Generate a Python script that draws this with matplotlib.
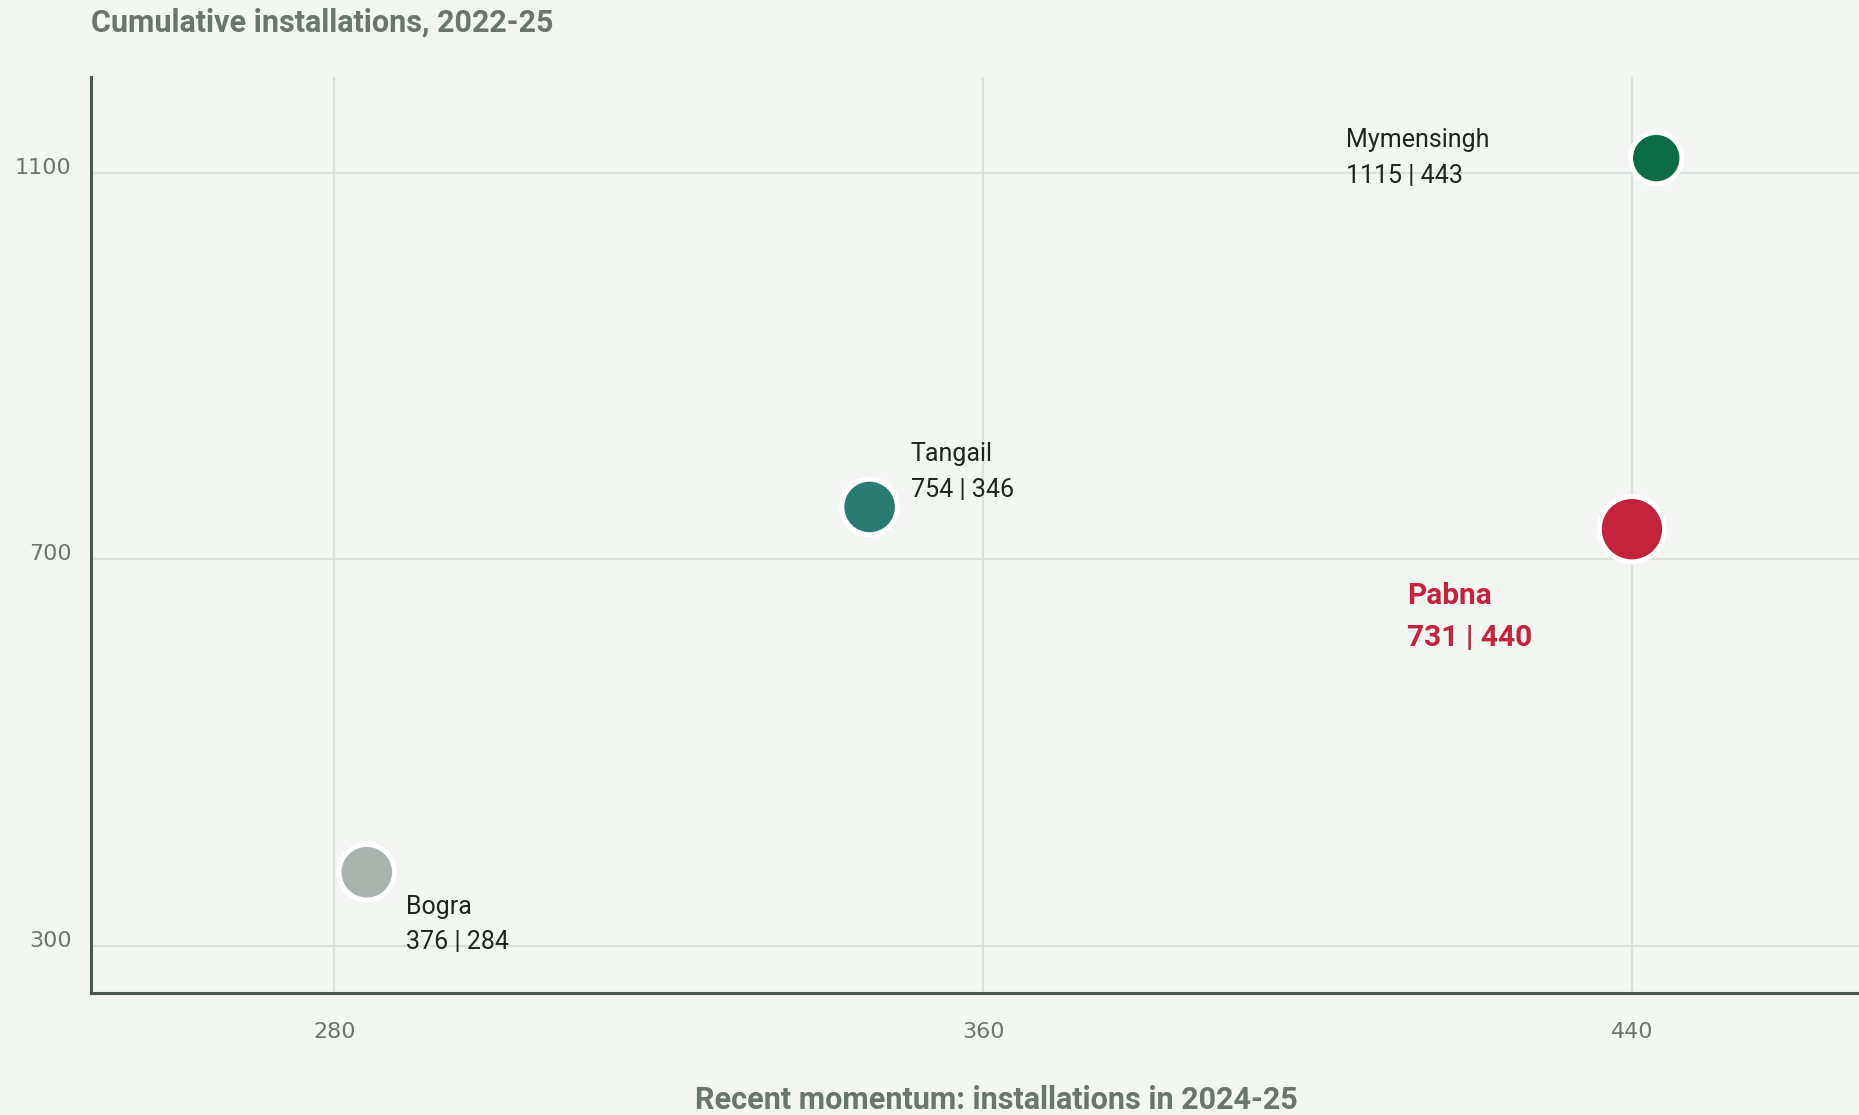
import matplotlib
matplotlib.use("Agg")
import matplotlib.pyplot as plt
from matplotlib.transforms import ScaledTranslation

# districts: recent momentum (2024-25) vs cumulative installs (2022-25)
districts = ["Mymensingh", "Pabna", "Tangail", "Bogra"]
recent = [443, 440, 346, 284]
cumulative = [1115, 731, 754, 376]
colors = ["#0c6b47", "#c4243b", "#2a7b74", "#a9b2ac"]
sizes = [1370, 2220, 1600, 1600]

x_ticks = [280, 360, 440]
y_ticks = [300, 700, 1100]

bg = "#f4f6f3"
grey = "#6b7570"
ink = "#1f2421"

fig = plt.figure(figsize=(18.59, 11.15), dpi=100, facecolor=bg)
ax = fig.add_axes([0.049, 0.1094, 0.951, 0.8216])
ax.set_facecolor(bg)

ax.scatter(recent, cumulative, s=sizes, c=colors, edgecolors="white",
           linewidths=3.6, zorder=3, clip_on=False)

ax.set_xlim(250, 468)
ax.set_ylim(251, 1199)
ax.set_xticks(x_ticks)
ax.set_yticks(y_ticks)
ax.grid(True, color="#dde2de", linewidth=1.6, zorder=0)
ax.tick_params(length=0, labelsize=16, labelcolor=grey)
ax.tick_params(axis="x", pad=21)
ax.tick_params(axis="y", pad=14)
shift = ScaledTranslation(0, 7 / 100, fig.dpi_scale_trans)
for lab in ax.get_yticklabels():
    lab.set_transform(lab.get_transform() + shift)
for s in ["top", "right"]:
    ax.spines[s].set_visible(False)
for s in ["left", "bottom"]:
    ax.spines[s].set_color("#4a5750")
    ax.spines[s].set_linewidth(2.2)

# label offsets in pixels from each point
offsets = {"Mymensingh": (-310, 0), "Pabna": (-225, -88),
           "Tangail": (41, 35), "Bogra": (39, -52)}
for name, xv, yv, col in zip(districts, recent, cumulative, colors):
    txt = f"{name}\n{yv} | {xv}"
    if name == "Pabna":
        kw = dict(color=col, fontsize=21.5, fontweight="bold", linespacing=1.62)
    else:
        kw = dict(color=ink, fontsize=18, linespacing=1.6)
    ax.annotate(txt, (xv, yv), xytext=offsets[name], textcoords="offset pixels",
                ha="left", va="center", family="Roboto", **kw)

fig.text(91 / 1859, 1 - 23 / 1115, "Cumulative installations, 2022-25",
         ha="left", va="center", fontsize=22, fontweight="bold", color=grey,
         family="Roboto")
fig.text(996 / 1859, 1 - 1100 / 1115, "Recent momentum: installations in 2024-25",
         ha="center", va="center", fontsize=22, fontweight="bold", color=grey,
         family="Roboto")

fig.savefig("out.png", dpi=100, facecolor=bg)
